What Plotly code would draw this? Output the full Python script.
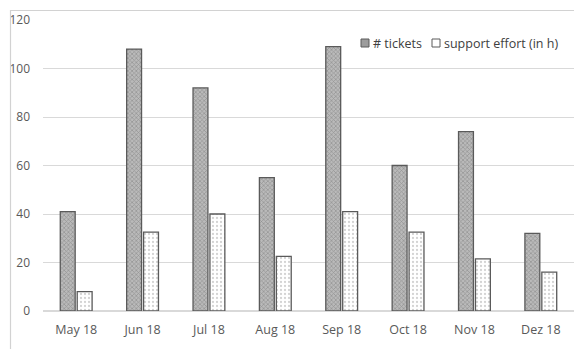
import plotly.graph_objects as go

months = ["May 18", "Jun 18", "Jul 18", "Aug 18", "Sep 18", "Oct 18", "Nov 18", "Dez 18"]
tickets = [41, 108, 92, 55, 109, 60, 74, 32]
support_hours = [8, 32.5, 40, 22.5, 41, 32.5, 21.5, 16]
y_ticks = [0, 20, 40, 60, 80, 100, 120]
series_names = ["# tickets", "support effort (in h)"]

W, H = 574, 349
ML, MR, MT, MB = 43, 0, 20, 38
PW, PH = W - ML - MR, H - MT - MB

TICKET_FILL = "#b0b0b0"
EDGE = "#5a5a5a"


def px_x(px):
    return (px - ML) / PW


def px_y(py):
    return (H - MB - py) / PH


fig = go.Figure()
fig.add_bar(
    x=months, y=tickets, name=series_names[0],
    marker=dict(
        color=TICKET_FILL,
        line=dict(color=EDGE, width=1.3),
        pattern=dict(shape="x", size=3, solidity=0.4, fgcolor="#6a6a6a", bgcolor="#bababa"),
    ),
)
fig.add_bar(
    x=months, y=support_hours, name=series_names[1],
    marker=dict(
        color="#ffffff",
        line=dict(color=EDGE, width=1.3),
        pattern=dict(shape=".", size=4, solidity=0.25, fgcolor="#a8a8a8", bgcolor="#ffffff"),
    ),
)

# light frame around the chart area (right and bottom edges fall outside the view)
fig.add_shape(
    type="rect", xref="paper", yref="paper",
    x0=px_x(10.5), x1=px_x(W + 5), y0=px_y(H + 5), y1=px_y(10.5),
    line=dict(color="#d2d2d2", width=1.2), fillcolor="rgba(0,0,0,0)", layer="above",
)

# compact legend: small swatch followed closely by its label
swatches = [(361, "#9c9c9c"), (432, "#ffffff")]
for (sx, fill), name in zip(swatches, series_names):
    fig.add_shape(
        type="rect", xref="paper", yref="paper",
        x0=px_x(sx), x1=px_x(sx + 8), y0=px_y(47), y1=px_y(39),
        fillcolor=fill, line=dict(color=EDGE, width=1), layer="above",
    )
    fig.add_annotation(
        x=px_x(sx + 10), y=px_y(43), xref="paper", yref="paper",
        text=name, showarrow=False, xanchor="left", yanchor="middle",
        font=dict(size=12.5, color="#404040"),
    )

fig.update_layout(
    width=W, height=H,
    margin=dict(l=ML, r=MR, t=MT, b=MB),
    paper_bgcolor="white", plot_bgcolor="white",
    barmode="group", bargap=0.49, bargroupgap=0.12,
    font=dict(family="Open Sans, Liberation Sans, sans-serif", color="#595959", size=12),
    showlegend=False,
)
fig.update_xaxes(showgrid=False, showline=False, ticks="", ticklabelstandoff=9,
                 tickfont=dict(size=12.5, color="#595959"))
fig.update_yaxes(
    range=[0, 120], tickvals=y_ticks, showgrid=True, gridcolor="#d9d9d9", gridwidth=1,
    zeroline=True, zerolinecolor="#d9d9d9", showline=False, ticks="", ticklabelstandoff=12,
    tickfont=dict(size=12, color="#595959"),
)

fig.write_html("out.html", config={"displayModeBar": False})
